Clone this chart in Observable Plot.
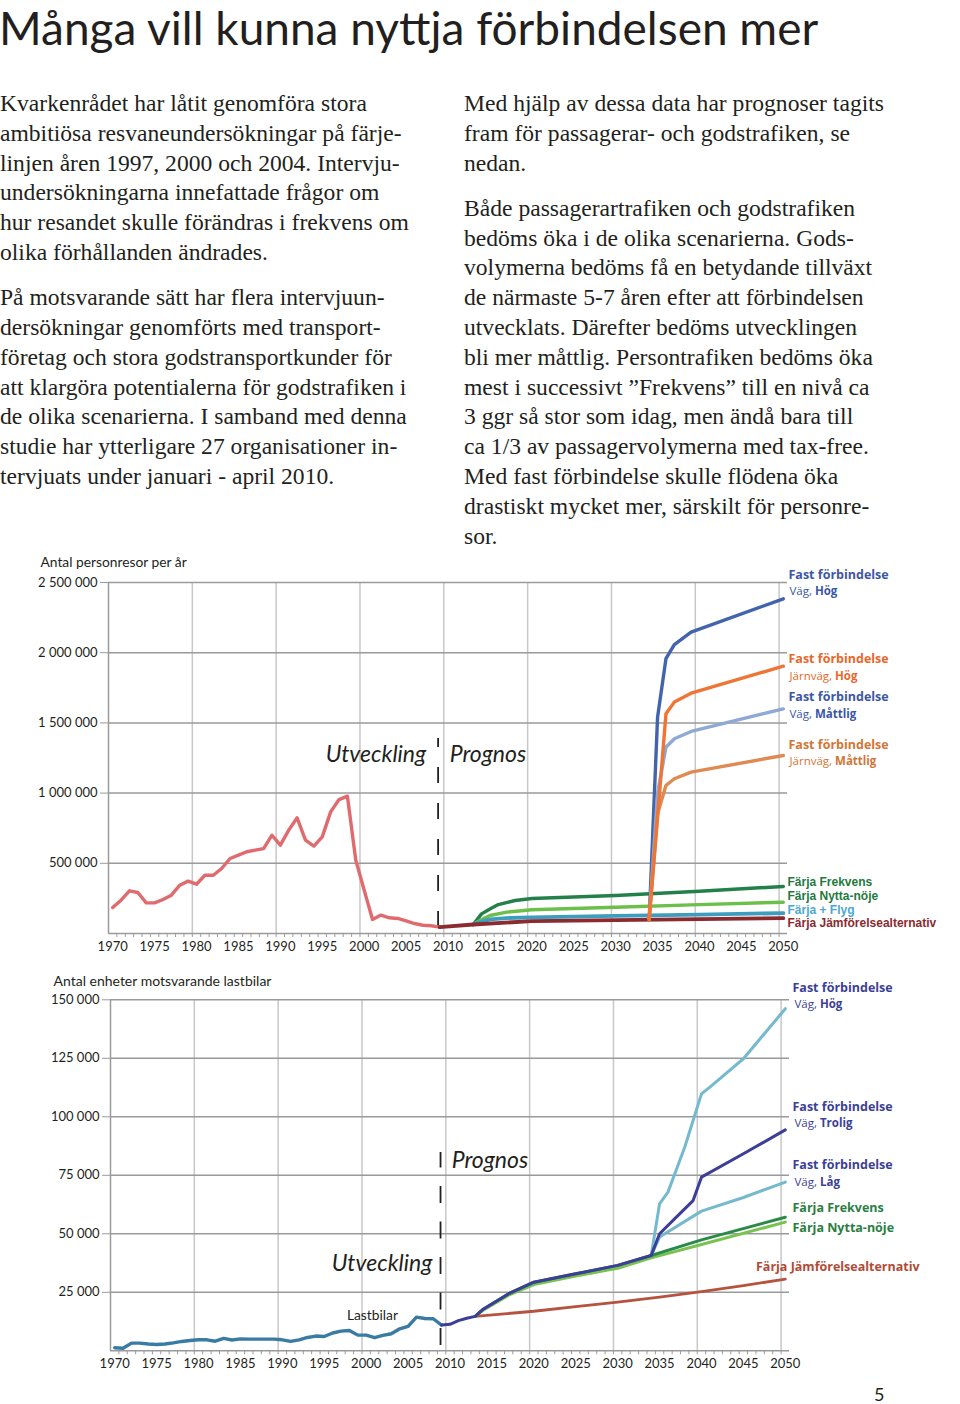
<!DOCTYPE html>
<html><head><meta charset="utf-8">
<script src="https://cdn.jsdelivr.net/npm/d3@7"></script>
<script src="https://cdn.jsdelivr.net/npm/@observablehq/plot@0.6"></script>
<style>
html,body{margin:0;padding:0;background:#fff;}
body{width:960px;height:1404px;position:relative;overflow:hidden;color:#231f20;}
#title{position:absolute;left:-1px;top:0px;font-family:Lato,sans-serif;font-size:46px;white-space:nowrap;line-height:55px;}
.col{position:absolute;top:89px;font-family:"Liberation Serif",serif;font-size:23.6px;line-height:29.8px;white-space:nowrap;}
.col p{margin:0 0 15.5px 0;}
#pg{position:absolute;left:874px;top:1383px;font-family:Lato,sans-serif;font-size:18px;}
.chart{position:absolute;left:0;}
.chart svg{display:block;}
</style></head>
<body>
<div id="title">Många vill kunna nyttja förbindelsen mer</div>
<div class="col" style="left:0">
<p>Kvarkenrådet har låtit genomföra stora<br>ambitiösa resvaneundersökningar på färje-<br>linjen åren 1997, 2000 och 2004. Intervju-<br>undersökningarna innefattade frågor om<br>hur resandet skulle förändras i frekvens om<br>olika förhållanden ändrades.</p>
<p>På motsvarande sätt har flera intervjuun-<br>dersökningar genomförts med transport-<br>företag och stora godstransportkunder för<br>att klargöra potentialerna för godstrafiken i<br>de olika scenarierna. I samband med denna<br>studie har ytterligare 27 organisationer in-<br>tervjuats under januari - april 2010.</p>
</div>
<div class="col" style="left:464px">
<p>Med hjälp av dessa data har prognoser tagits<br>fram för passagerar- och godstrafiken, se<br>nedan.</p>
<p>Både passagerartrafiken och godstrafiken<br>bedöms öka i de olika scenarierna. Gods-<br>volymerna bedöms få en betydande tillväxt<br>de närmaste 5-7 åren efter att förbindelsen<br>utvecklats. Därefter bedöms utvecklingen<br>bli mer måttlig. Persontrafiken bedöms öka<br>mest i successivt ”Frekvens” till en nivå ca<br>3 ggr så stor som idag, men ändå bara till<br>ca 1/3 av passagervolymerna med tax-free.<br>Med fast förbindelse skulle flödena öka<br>drastiskt mycket mer, särskilt för personre-<br>sor.</p>
</div>
<div id="top" class="chart" style="top:550px"></div>
<div id="bot" class="chart" style="top:970px"></div>
<div id="pg">5</div>
<script>
// ---------- DATA ----------
const histYears = d3.range(1970, 2010);
const passengersHist = [185000,237000,304000,292000,218000,218000,242000,273000,344000,373000,
  351000,415000,415000,463000,534000,558000,582000,594000,605000,700000,
  629000,736000,824000,665000,622000,688000,866000,954000,978000,522000,
  309000,100000,131000,112000,107000,90000,71000,59000,55000,45000];

const pJamforYears = [2009,2013,2020,2030,2040,2050];
const pJamforVals  = [45000,64000,88000,95000,102000,109000];
const pFlygYears = [2013,2014,2015,2017,2020,2030,2040,2050];
const pFlygVals  = [64000,85000,100000,110000,115000,125000,135000,145000];
const pNyttaYears = [2013,2014,2015,2017,2020,2030,2040,2050];
const pNyttaVals  = [64000,100000,128000,152000,169000,187000,206000,223000];
const pFrekvensYears = [2013,2014,2015,2016,2018,2020,2030,2040,2050];
const pFrekvensVals  = [64000,140000,175000,206000,235000,249000,271000,301000,335000];
const fastYears = [2034,2035,2036,2037,2039,2050];
const pVagHogVals      = [100000,1540000,1957000,2058000,2146000,2384000];
const pJarnHogVals     = [100000,828000,1565000,1648000,1712000,1904000];
const pVagMattligVals  = [100000,1000000,1327000,1387000,1439000,1600000];
const pJarnMattligVals = [100000,852000,1054000,1102000,1149000,1268000];

const lastbilarHist = [1300,1100,3300,3300,2900,2700,2900,3400,4000,4400,
  4700,4700,4100,5300,4600,5100,5000,5000,5000,5000,
  4700,4000,4700,5700,6300,6100,7600,8400,8700,6700,
  6700,5600,6600,7300,9400,10400,14400,13800,13700,11000];
const gTroligYears = [2009,2010,2011,2012,2013,2014,2017,2020,2025,2030,2034,2035,2037,2039,2040,2045,2050];
const gTroligVals  = [11000,11300,12900,13900,14700,17900,24400,29300,32900,36500,40700,50000,57100,64200,74200,84200,94400];
const gFrekvensYears = [2013,2014,2017,2020,2025,2030,2034,2040,2050];
const gFrekvensVals  = [14700,17900,24400,29300,32900,36500,40700,47400,57100];
const gNyttaYears = [2013,2014,2017,2020,2025,2030,2034,2040,2050];
const gNyttaVals  = [14700,17500,23800,28300,32000,35300,39700,45400,55000];
const gJamforYears = [2013,2020,2025,2030,2035,2040,2045,2050];
const gJamforVals  = [14700,16900,18900,20800,22900,25300,27900,30600];
const gVagHogYears = [2034,2035,2036,2038,2039,2040,2041,2045,2050];
const gVagHogVals  = [40700,62800,67800,87000,98400,109800,112700,124800,146200];
const gVagLagYears = [2034,2035,2040,2045,2050];
const gVagLagVals  = [40700,48600,59700,65500,72100];

const yTicksTop = [500000,1000000,1500000,2000000,2500000];
const yTicksBot = [25000,50000,75000,100000,125000,150000];
const yearLabels = d3.range(1970, 2051, 5);

// label texts and anchor values (data units)
const topFastPrefix = ["Väg, ","Järnväg, ","Väg, ","Järnväg, "];
const topFastSuffix = ["Hög","Hög","Måttlig","Måttlig"];
const topFastTitleY = [2550000,1952000,1681000,1346000];
const topFastSubY   = [2436000,1830000,1560000,1225000];
const topFerryNames = ["Färja Frekvens","Färja Nytta-nöje","Färja + Flyg","Färja Jämförelsealternativ"];
const topFerryY     = [365000,268000,169000,72000];

const botFastPrefix = ["Väg, ","Väg, ","Väg, "];
const botFastSuffix = ["Hög","Trolig","Låg"];
const botFastTitleY = [155000,104400,79500];
const botFastSubY   = [147900,97300,71800];
const botFerryNames = ["Färja Frekvens","Färja Nytta-nöje"];
const botFerryY     = [60900,52400];

// ---------- STYLE ----------
const C = {
  hist:"#e06b6e", vagHog:"#4264ad", jarnHog:"#ee7536", vagMatt:"#8fa9d6", jarnMatt:"#df8a52",
  frek:"#23804a", nytta:"#6dbf4b", flyg:"#3d9dbf", jamf:"#8b2a2f",
  lblBlue:"#3b57a5", lblOrange:"#e8672b", lblBrown:"#d27636", lblGreen:"#1f7a3d", lblFlyg:"#4ba7d3",
  gHist:"#3a7ba3", gTrolig:"#3c3e98", gLight:"#75b9cf", gFrek:"#2b8a4a", gNytta:"#79c251", gJamf:"#b5533f",
  gLblNavy:"#3b3f98", gLblGreen:"#2a7e42", gLblJamf:"#b04b35",
  hGrid:"#9a9a9a", vGrid:"#c8c8c8", text:"#231f20"
};
const FONT = "Lato, sans-serif";
const LFONT = "'Open Sans', sans-serif";
const SFONT = "'Liberation Sans', Arial, sans-serif";
const zip = (ys, vs) => ys.map((y, i) => ({year: y, value: vs[i]}));
const fmtSpace = d => d3.format(",")(d).replace(/,/g, " ");
const ctx = document.createElement("canvas").getContext("2d");
const tw = (s, font) => { ctx.font = font; return ctx.measureText(s).width; };

function lineMark(data, color, w = 3.2) {
  return Plot.line(data, {x: d => d.year + 0.5, y: "value", stroke: color, strokeWidth: w,
    strokeLinejoin: "round", strokeLinecap: "round"});
}
function txt(text, xv, yv, color, opts = {}) {
  return Plot.text([0], {x: () => xv, y: () => yv, text: () => text, fill: color,
    textAnchor: "start", lineAnchor: "middle", fontFamily: FONT, ...opts});
}
function fastLabels(prefixes, suffixes, titleY, subY, titleColors, xv, dxT, dxS) {
  const marks = [];
  prefixes.forEach((p, i) => {
    marks.push(txt("Fast förbindelse", xv, titleY[i], titleColors[i], {fontWeight: "bold", fontSize: 12.5, dx: dxT, fontFamily: LFONT}));
    marks.push(txt(p, xv, subY[i], titleColors[i], {fontSize: 11.5, dx: dxS, fontFamily: LFONT}));
    const w = tw(p, "11.5px 'Open Sans'");
    marks.push(txt(suffixes[i], xv, subY[i], titleColors[i], {fontWeight: "bold", fontSize: 11.5, dx: dxS + w, fontFamily: LFONT}));
  });
  return marks;
}
function frame(yTicks, splitX, dashY1, dashY2, dash) {
  return [
    Plot.ruleX(d3.range(1980, 2051, 10), {stroke: C.vGrid, strokeWidth: 1.5}),
    Plot.ruleY(yTicks, {stroke: C.hGrid, strokeWidth: 1.5}),
    Plot.ruleX([1970], {stroke: C.hGrid, strokeWidth: 1.5}),
    Plot.ruleY([0], {stroke: C.hGrid, strokeWidth: 1.5}),
    Plot.axisY({ticks: yTicks, label: null, tickSize: 8, tickPadding: 3, tickFormat: fmtSpace, stroke: C.hGrid,
      fill: C.text, fontSize: 13, fontFamily: FONT}),
    Plot.axisX({ticks: d3.range(1971, 2051), label: null, tickSize: 4, tickFormat: () => "", stroke: C.hGrid}),
    Plot.axisX({ticks: yearLabels.map(y => y + 0.5), label: null, tickSize: 0, tickPadding: 8,
      tickFormat: d => String(d - 0.5), fill: C.text, fontSize: 13, fontFamily: FONT}),
    Plot.ruleX([splitX], {y1: dashY1, y2: dashY2, stroke: C.text, strokeWidth: 1.8, strokeDasharray: dash})
  ];
}

// ---------- TOP CHART ----------
const topMarks = [
  ...frame(yTicksTop, 2009.32, 43000, 1389000, "16,20"),
  Plot.text([0], {frameAnchor: "top-left", dx: -68, dy: -20, text: () => "Antal personresor per år",
    textAnchor: "start", lineAnchor: "middle", fill: C.text, fontSize: 13.8, fontFamily: FONT}),
  txt("Utveckling", 2007.9, 1275000, C.text, {textAnchor: "end", fontSize: 23, fontStyle: "italic"}),
  txt("Prognos", 2010.7, 1275000, C.text, {fontSize: 23, fontStyle: "italic"}),
  lineMark(zip(histYears, passengersHist), C.hist, 3.4),
  lineMark(zip(pFrekvensYears, pFrekvensVals), C.frek, 3.4),
  lineMark(zip(pNyttaYears, pNyttaVals), C.nytta, 3.4),
  lineMark(zip(pFlygYears, pFlygVals), C.flyg, 3.8),
  lineMark(zip(pJamforYears, pJamforVals), C.jamf, 3.8),
  lineMark(zip(fastYears, pVagHogVals), C.vagHog, 3.4),
  lineMark(zip(fastYears, pVagMattligVals), C.vagMatt, 3.4),
  lineMark(zip(fastYears, pJarnMattligVals), C.jarnMatt, 3.4),
  lineMark(zip(fastYears, pJarnHogVals), C.jarnHog, 3.4),
  ...fastLabels(topFastPrefix, topFastSuffix, topFastTitleY, topFastSubY,
    [C.lblBlue, C.lblOrange, C.lblBlue, C.lblBrown], 2051, 1, 2),
  ...topFerryNames.map((n, i) => txt(n, 2051, topFerryY[i],
    [C.lblGreen, C.lblGreen, C.lblFlyg, C.jamf][i], {fontWeight: "bold", fontSize: 12, dx: 0, fontFamily: SFONT}))
];
document.getElementById("top").append(Plot.plot({
  width: 960, height: 410,
  marginTop: 32, marginBottom: 27, marginLeft: 108, marginRight: 173,
  x: {domain: [1970, 2051]},
  y: {domain: [0, 2500000]},
  style: {fontFamily: FONT, fontSize: "13px", color: C.text, background: "transparent", overflow: "visible"},
  marks: topMarks
}));

// ---------- BOTTOM CHART ----------
const botMarks = [
  ...frame(yTicksBot, 2009.37, 2300, 84700, "17,18.5"),
  Plot.text([0], {frameAnchor: "top-left", dx: -57, dy: -18, text: () => "Antal enheter motsvarande lastbilar",
    textAnchor: "start", lineAnchor: "middle", fill: C.text, fontSize: 14, fontFamily: FONT}),
  txt("Utveckling", 2008.4, 37300, C.text, {textAnchor: "end", fontSize: 23, fontStyle: "italic"}),
  txt("Prognos", 2010.7, 81300, C.text, {fontSize: 23, fontStyle: "italic"}),
  txt("Lastbilar", 1998.2, 15100, C.text, {fontSize: 13.8}),
  lineMark(zip(histYears, lastbilarHist), C.gHist, 3.4),
  lineMark(zip(gJamforYears, gJamforVals), C.gJamf, 2.8),
  lineMark(zip(gVagHogYears, gVagHogVals), C.gLight, 3),
  lineMark(zip(gVagLagYears, gVagLagVals), C.gLight, 3),
  lineMark(zip(gNyttaYears, gNyttaVals), C.gNytta, 3),
  lineMark(zip(gFrekvensYears, gFrekvensVals), C.gFrek, 3),
  lineMark(zip(gTroligYears, gTroligVals), C.gTrolig, 3),
  ...fastLabels(botFastPrefix, botFastSuffix, botFastTitleY, botFastSubY,
    [C.gLblNavy, C.gLblNavy, C.gLblNavy], 2051, 3, 5),
  ...botFerryNames.map((n, i) => txt(n, 2051, botFerryY[i], C.gLblGreen, {fontWeight: "bold", fontSize: 12.5, dx: 3, fontFamily: LFONT})),
  txt("Färja Jämförelsealternativ", 2047.0, 35700, C.gLblJamf, {fontWeight: "bold", fontSize: 12.5, fontFamily: LFONT})
];
document.getElementById("bot").append(Plot.plot({
  width: 960, height: 410,
  marginTop: 29.3, marginBottom: 29.7, marginLeft: 110, marginRight: 171,
  x: {domain: [1970, 2051]},
  y: {domain: [0, 150000]},
  style: {fontFamily: FONT, fontSize: "13px", color: C.text, background: "transparent", overflow: "visible"},
  marks: botMarks
}));
</script>
</body></html>
